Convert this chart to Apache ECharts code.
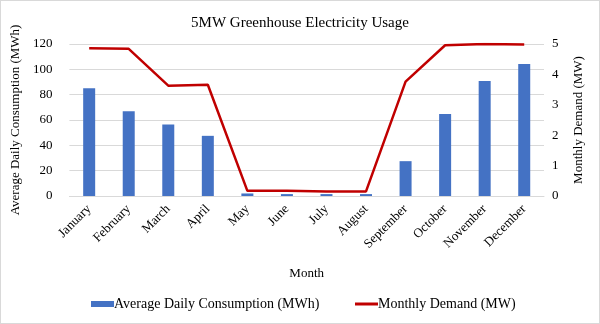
<!DOCTYPE html>
<html>
<head>
<meta charset="utf-8">
<script src="https://cdn.jsdelivr.net/npm/echarts@6/dist/echarts.min.js"></script>
<style>
  html, body { margin: 0; padding: 0; background: #fff; }
  #chart { width: 598px; height: 322px; border: 1px solid #d9d9d9; }
</style>
</head>
<body>
<div id="chart"></div>
<script>
// Monthly data for the 5MW greenhouse
const months = ['January', 'February', 'March', 'April', 'May', 'June',
                'July', 'August', 'September', 'October', 'November', 'December'];
const dailyConsumption = [85, 67, 56.5, 47.5, 2, 1.5, 1.5, 1.5, 27.5, 64.8, 90.8, 104.2];
const monthlyDemand = [4.86, 4.84, 3.63, 3.66, 0.17, 0.17, 0.15, 0.15, 3.76, 4.96, 5.0, 4.98];
const leftTicks = [0, 120, 20];   // min, max, interval (MWh)
const rightTicks = [0, 5, 1];     // min, max, interval (MW)

const FONT = '"Liberation Serif", "Times New Roman", serif';
const BAR_NAME = 'Average Daily Consumption (MWh)';
const LINE_NAME = 'Monthly Demand (MW)';
const legendText = { fontFamily: FONT, fontSize: 14, color: '#000', padding: [0, 0, 0, -5] };

const chart = echarts.init(document.getElementById('chart'), null, { renderer: 'canvas' });

chart.setOption({
  animation: false,
  title: {
    text: '5MW Greenhouse Electricity Usage',
    left: 'center',
    top: 10,
    textStyle: { fontFamily: FONT, fontSize: 15, fontWeight: 'normal', color: '#000' }
  },
  grid: { left: 67, right: 55, top: 43, bottom: 127 },
  legend: [
    {
      left: 85, top: 291,
      itemWidth: 23, itemHeight: 6,
      textStyle: legendText,
      data: [{ name: BAR_NAME, icon: 'rect' }]
    },
    {
      left: 349, top: 291,
      itemWidth: 23, itemHeight: 3,
      textStyle: legendText,
      data: [{ name: LINE_NAME, icon: 'rect' }]
    }
  ],
  xAxis: {
    type: 'category',
    data: months,
    name: 'Month',
    nameLocation: 'middle',
    nameGap: 71,
    nameTextStyle: { fontFamily: FONT, fontSize: 13, color: '#000' },
    axisLine: { lineStyle: { color: '#d9d9d9' } },
    axisTick: { show: false },
    axisLabel: { rotate: 45, interval: 0, margin: 11, fontFamily: FONT, fontSize: 13, color: '#000' }
  },
  yAxis: [
    {
      type: 'value',
      min: leftTicks[0], max: leftTicks[1], interval: leftTicks[2],
      name: BAR_NAME,
      nameLocation: 'middle',
      nameGap: 46,
      nameTextStyle: { fontFamily: FONT, fontSize: 13, color: '#000' },
      axisLine: { show: false },
      axisTick: { show: false },
      axisLabel: { fontFamily: FONT, fontSize: 13, color: '#000', margin: 17 },
      splitLine: { lineStyle: { color: '#d9d9d9', width: 1 } }
    },
    {
      type: 'value',
      min: rightTicks[0], max: rightTicks[1], interval: rightTicks[2],
      name: LINE_NAME,
      nameLocation: 'middle',
      nameGap: 28,
      nameRotate: 90,
      nameTextStyle: { fontFamily: FONT, fontSize: 13, color: '#000' },
      axisLine: { show: false },
      axisTick: { show: false },
      axisLabel: { fontFamily: FONT, fontSize: 13, color: '#000', margin: 8 },
      splitLine: { show: false }
    }
  ],
  series: [
    {
      name: BAR_NAME,
      type: 'bar',
      yAxisIndex: 0,
      data: dailyConsumption,
      barWidth: 12,
      itemStyle: { color: '#4472C4' }
    },
    {
      name: LINE_NAME,
      type: 'line',
      yAxisIndex: 1,
      data: monthlyDemand,
      symbol: 'none',
      lineStyle: { color: '#C00000', width: 2.5 },
      itemStyle: { color: '#C00000' }
    }
  ]
});
</script>
</body>
</html>
